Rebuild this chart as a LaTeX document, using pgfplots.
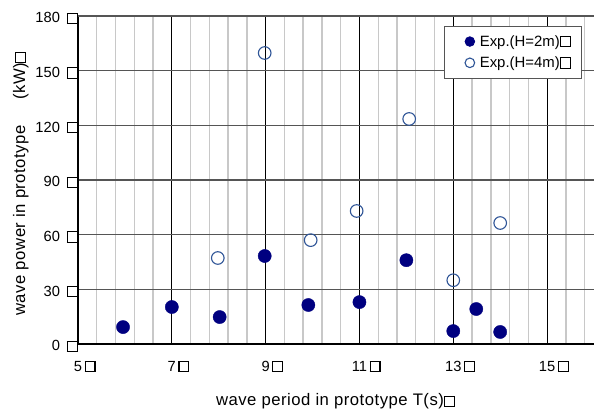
\documentclass[border=0pt]{standalone}
\usepackage{pgfplots}
\pgfplotsset{compat=1.18}
\usepackage{fontspec}
\setmainfont{Liberation Sans}
\newfontfamily\labfont[LetterSpace=2.9]{Liberation Sans}
\newcommand{\bx}{\raisebox{-0.2bp}{\setlength{\fboxsep}{0pt}\setlength{\fboxrule}{1.1bp}\fbox{\hbox to 8.8bp{\vrule height 9.2bp depth 0pt width 0pt\hfil}}}}
\newcommand{\tf}{\fontsize{14.7bp}{17bp}\selectfont}
\newcommand{\lf}{\labfont\fontsize{16.7bp}{19bp}\selectfont}
\newcommand{\gf}{\fontsize{14.9bp}{17bp}\selectfont}
\definecolor{navyc}{RGB}{0,0,128}
\definecolor{openc}{RGB}{47,85,151}
\definecolor{mingrid}{RGB}{200,200,200}
\definecolor{majgrid}{RGB}{85,85,85}
\begin{document}
\begin{tikzpicture}[x=1bp,y=1bp]
\path[use as bounding box] (-78,-67) rectangle (516,344);
\begin{axis}[
  at={(0,0)}, anchor=south west,
  scale only axis, width=516bp, height=328bp,
  xmin=5, xmax=16, ymin=0, ymax=180,
  xtick={5,7,9,11,13,15},
  xticklabels={5\rlap{\kern2.5bp\bx},7\rlap{\kern2.5bp\bx},9\rlap{\kern2.5bp\bx},11\rlap{\kern2.5bp\bx},13\rlap{\kern2.5bp\bx},15\rlap{\kern2.5bp\bx}},
  minor xtick={5.4,5.8,6.2,6.6,7.4,7.8,8.2,8.6,9.4,9.8,10.2,10.6,11.4,11.8,12.2,12.6,13.4,13.8,14.2,14.6,15.4,15.8},
  ytick={0,30,60,90,120,150},
  yticklabels={0\kern6.8bp\bx,30\kern6.8bp\bx,60\kern6.8bp\bx,90\kern6.8bp\bx,120\kern6.8bp\bx,150\kern6.8bp\bx},
  extra y ticks={180},
  extra y tick labels={180\kern6.8bp\bx},
  extra y tick style={grid style={black, line width=1.2bp}},
  major tick length=0pt, minor tick length=0pt,
  axis line style={line width=1.6bp, black},
  axis x line*=bottom, axis y line*=left,
  xmajorgrids, xminorgrids, ymajorgrids,
  x grid style={black, line width=1bp},
  minor x grid style={mingrid, line width=1.4bp},
  y grid style={majgrid, line width=1.2bp},
  tick label style={font=\tf},
  yticklabel style={anchor=base east, inner sep=0pt, xshift=0pt, yshift=-6.7bp},
  xticklabel style={anchor=base, inner sep=0pt, yshift=-27bp},
  xlabel={wave period in prototype T(s)\bx},
  ylabel={wave power in prototype\hspace{26bp}(kW)\bx},
  label style={font=\lf},
  xlabel style={at={(axis description cs:0.499,-0.189)}, anchor=base, inner sep=0pt},
  ylabel style={at={(axis description cs:-0.1027,0.489)}, anchor=base, inner sep=0pt, rotate=0},
  legend style={at={(0.977,0.9695)}, anchor=north east, draw=majgrid, line width=0.8bp, fill=white, font=\gf, inner xsep=9bp, inner ysep=7bp, row sep=5bp},
  legend cell align=left,
  legend image code/.code={\path[draw=none] (0,0) -- (24bp,0); \draw[#1, only marks, mark size=4.8bp] plot coordinates {(16bp,0)};},
  clip=false,
]
\addplot[only marks, mark=*, mark size=6.6bp, navyc, mark options={fill=navyc, draw=navyc}] coordinates {
(5.96,9.3) (7.0,20.3) (8.02,14.8) (8.98,48.3) (9.91,21.4) (11.0,23.0) (12.0,46.0) (13.0,7.1) (13.49,19.2) (14.0,6.6)
};
\addlegendentry{Exp.(H=2m)\bx}
\addplot[only marks, mark=o, mark size=6.3bp, openc, mark options={draw=openc, fill=white, line width=1.1bp}] coordinates {
(7.98,47.2) (8.98,159.7) (9.96,57.0) (10.94,73.0) (12.06,123.5) (13.0,35.0) (14.0,66.4)
};
\addlegendentry{Exp.(H=4m)\bx}
\end{axis}
\end{tikzpicture}
\end{document}
